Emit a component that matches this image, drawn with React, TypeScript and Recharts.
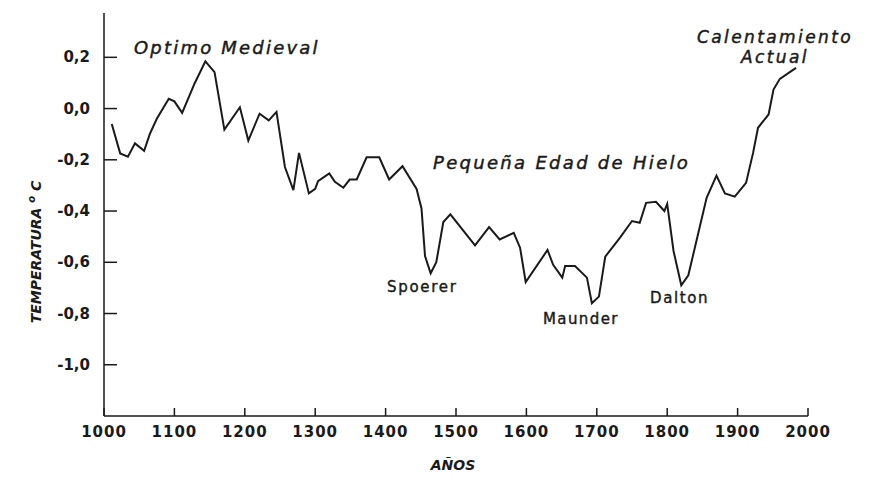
import { LineChart, Line, XAxis, YAxis, Customized } from "recharts";

// años y temperatura (°C)
const years = [
  1011, 1023, 1034, 1044, 1057, 1065, 1075, 1092, 1100, 1111, 1129, 1144, 1157, 1171, 1193, 1205,
  1221, 1234, 1245, 1257, 1269, 1277, 1291, 1300, 1304, 1320, 1328, 1340, 1349, 1359, 1373, 1391,
  1405, 1424, 1444, 1451, 1456, 1464, 1472, 1482, 1492, 1527, 1547, 1562, 1582, 1591, 1599, 1630,
  1638, 1651, 1655, 1669, 1686, 1693, 1703, 1712, 1733, 1750, 1761, 1770, 1784, 1796, 1800, 1809,
  1820, 1830, 1856, 1870, 1882, 1896, 1912, 1922, 1929, 1944, 1951, 1960, 1983,
];
const temps = [
  -0.06, -0.175, -0.188, -0.136, -0.165, -0.1, -0.04, 0.038, 0.028, -0.017, 0.1, 0.184, 0.142, -0.082, 0.005, -0.125,
  -0.02, -0.046, -0.013, -0.228, -0.318, -0.173, -0.331, -0.313, -0.283, -0.253, -0.286, -0.309, -0.277, -0.277, -0.19, -0.19,
  -0.277, -0.225, -0.314, -0.39, -0.576, -0.643, -0.6, -0.443, -0.413, -0.534, -0.463, -0.511, -0.485, -0.543, -0.677, -0.552,
  -0.61, -0.66, -0.615, -0.615, -0.66, -0.76, -0.734, -0.578, -0.504, -0.439, -0.446, -0.368, -0.364, -0.4, -0.372, -0.556,
  -0.69, -0.651, -0.348, -0.262, -0.331, -0.344, -0.29, -0.173, -0.075, -0.023, 0.074, 0.116, 0.159,
];
const xTicks = [1000, 1100, 1200, 1300, 1400, 1500, 1600, 1700, 1800, 1900, 2000];
const yTicks = [0.2, 0, -0.2, -0.4, -0.6, -0.8, -1.0];

const data = years.map((y, i) => ({ year: y, temp: temps[i] }));

const FONT = "'DejaVu Sans', Verdana, sans-serif";
const INK = "#1a1a1a";

function XTick({ x, y, payload }: any) {
  return (
    <g>
      <line x1={x} x2={x} y1={y - 8} y2={y} stroke={INK} strokeWidth={1.5} />
      <text x={x} y={y + 21} textAnchor="middle" fontFamily={FONT} fontSize={15} fontWeight="bold" letterSpacing={1} fill={INK}>
        {payload.value}
      </text>
    </g>
  );
}

function YTick({ x, y, payload }: any) {
  return (
    <g>
      <line x1={x} x2={x + 13} y1={y} y2={y} stroke={INK} strokeWidth={1.5} />
      <text x={x - 14} y={y + 5} textAnchor="end" fontFamily={FONT} fontSize={15} fontWeight="bold" fill={INK}>
        {payload.value.toFixed(1).replace(".", ",")}
      </text>
    </g>
  );
}

function Annotations() {
  // trazo fino extra para que el texto se vea un poco más grueso, como en el original
  const big = { fontFamily: FONT, fontSize: 18, fontStyle: "italic", fill: INK, stroke: INK, strokeWidth: 0.45 } as const;
  const small = { fontFamily: FONT, fontSize: 15, fill: INK, stroke: INK, strokeWidth: 0.4 } as const;
  return (
    <g>
      <text x={126} y={46} letterSpacing={2.2} {...big}>Optimo Medieval</text>
      <text x={425} y={161} letterSpacing={2.3} {...big}>Pequeña Edad de Hielo</text>
      <text x={767} y={35} textAnchor="middle" letterSpacing={2.4} {...big} fontSize={17}>Calentamiento</text>
      <text x={767} y={55} textAnchor="middle" letterSpacing={2.4} {...big} fontSize={17}>Actual</text>
      <text x={379} y={284} letterSpacing={1.7} {...small}>Spoerer</text>
      <text x={535} y={316} letterSpacing={1.4} {...small}>Maunder</text>
      <text x={642} y={295} letterSpacing={1.6} {...small}>Dalton</text>
      <text
        transform="translate(33,244) rotate(-90)"
        textAnchor="middle"
        fontFamily={FONT}
        fontSize={14}
        fontStyle="italic"
        fontWeight="bold"
        fill={INK}
      >
        TEMPERATURA <tspan fontSize={10} dy={-6}>o</tspan>
        <tspan dy={6}> C</tspan>
      </text>
      <text x={445} y={462} textAnchor="middle" fontFamily={FONT} fontSize={14} fontStyle="italic" fontWeight="bold" fill={INK}>
        AÑOS
      </text>
    </g>
  );
}

export default function App() {
  return (
    <div style={{ width: 861, height: 480, background: "#fff" }}>
      <LineChart width={861} height={480} data={data} margin={{ top: 5, right: 61, bottom: 42, left: 0 }}>
        <XAxis
          dataKey="year"
          type="number"
          domain={[1000, 2000]}
          ticks={xTicks}
          height={30}
          tickSize={0}
          tickMargin={0}
          tickLine={false}
          axisLine={{ stroke: INK, strokeWidth: 1.5 }}
          tick={<XTick />}
        />
        <YAxis
          type="number"
          domain={[-1.2, 0.373]}
          ticks={yTicks}
          width={96}
          tickSize={0}
          tickMargin={0}
          tickLine={false}
          axisLine={{ stroke: INK, strokeWidth: 1.5 }}
          tick={<YTick />}
          allowDataOverflow
        />
        <Line
          type="linear"
          dataKey="temp"
          stroke={INK}
          strokeWidth={2}
          dot={false}
          isAnimationActive={false}
        />
        <Customized component={Annotations} />
      </LineChart>
    </div>
  );
}
